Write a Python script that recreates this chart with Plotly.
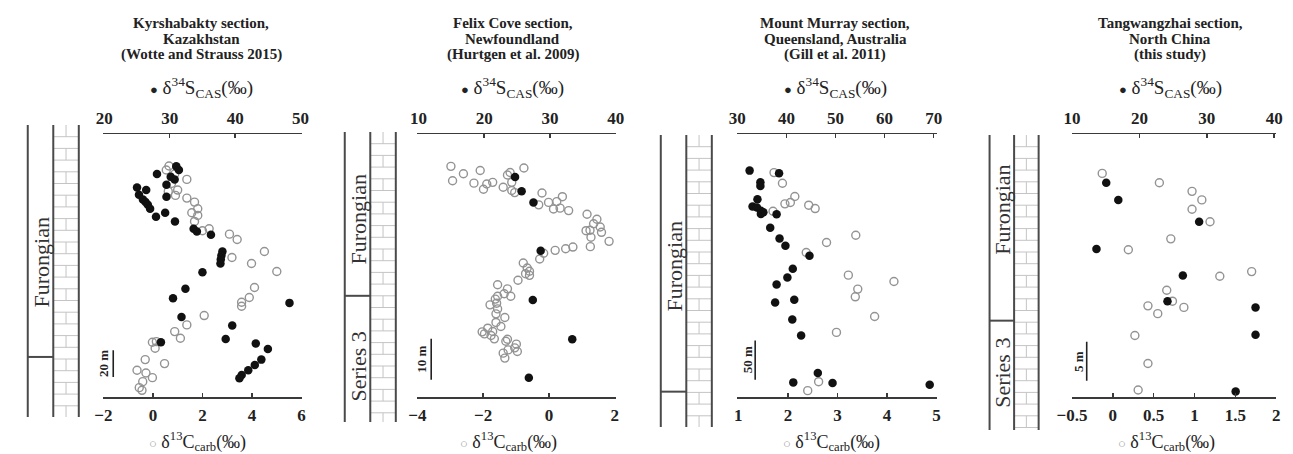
import plotly.graph_objects as go

W, H = 1293, 454
SERIF = "Liberation Serif"

# ---------------- DATA ----------------
# Panel 1: Kyrshabakty section (heights in m)
kyr_c13 = [0.65, 0.54, 0.88, 1.37, 0.75, 1.0, 0.62, 0.91, 1.37, 1.68, 1.81, 1.57, 1.81, 1.68, 2.0, 2.27,
           3.09, 3.4, 4.5, 3.19, 3.98, 5.0, 4.1, 3.89, 3.58, 3.58, 2.07, 1.37, 0.88, 1.11, -0.02, 0.14,
           0.09, 0.47, -0.31, -0.64, -0.28, -0.02, -0.41, -0.55, -0.44]
kyr_c13_h = [173, 170, 167, 163, 160, 155, 154, 151, 149, 146, 141, 138, 136, 131.5, 124.5, 126,
             122, 118, 109, 104.5, 100, 94, 82, 74.5, 71, 68, 61, 54, 49, 44, 41, 41.5,
             36.5, 25, 28, 20, 18, 14.5, 11.5, 7, 5]
kyr_s34 = [31.0, 31.4, 28.05, 30.15, 30.75, 29.5, 25.0, 26.4, 25.3, 29.5, 25.9, 26.3, 26.65, 27.0, 27.9,
           29.3, 30.8, 33.65, 34.15, 36.3, 38.05, 37.9, 37.8, 37.75, 35.0, 32.4, 30.5, 48.3, 31.8, 39.55,
           38.55, 28.65, 43.15, 45.0, 44.0, 43.0, 42.0, 41.0, 40.65]
kyr_s34_h = [172.75, 170, 167, 165, 163, 159, 157, 155, 151.5, 150, 148, 146, 144, 141, 135,
             138, 131.5, 126, 124, 121.5, 109, 106, 103, 100, 93.5, 81, 74, 70.5, 60, 53.5,
             43.5, 41, 40, 36, 28, 24, 20, 16.5, 14]

# Panel 2: Felix Cove section
fel_c13 = [-2.98, -2.93, -2.60, -2.28, -2.09, -1.99, -1.89, -1.71, -1.39, -1.26, -1.18, -1.13, -1.13, -1.04,
           -0.76, -0.21, -0.31, -0.01, 0.14, 0.24, 0.34, 0.41, 0.60, 1.16, 1.36, 1.46, 1.56, 1.25, 1.13,
           1.60, 1.28, 1.26, 1.83, 0.73, 0.51, 0.19, -0.16, -0.28, -0.78, -0.66, -0.59, -0.71, -0.59,
           -0.94, -1.56, -1.26, -1.36, -1.16, -1.56, -1.63, -1.59, -1.79, -1.56, -1.34, -1.61, -1.46,
           -1.61, -1.86, -2.03, -1.96, -1.76, -1.66, -1.71, -1.26, -1.31, -0.99, -1.04, -0.96, -1.39,
           -1.34, -1.24]
fel_c13_h = [56.3, 52.8, 54.5, 52.2, 55.3, 50.7, 52.0, 52.4, 51.2, 54.2, 54.8, 52.4, 50.4, 49.9,
             55.9, 49.8, 46.9, 47.5, 45.9, 47.7, 46.1, 48.9, 45.5, 44.6, 42.3, 43.4, 41.5, 40.7, 40.6,
             40.2, 39.0, 36.7, 38.0, 36.6, 36.2, 35.8, 35.1, 33.7, 32.7, 31.5, 30.7, 30.1, 29.7,
             28.5, 27.4, 26.4, 25.2, 24.6, 24.6, 23.9, 22.9, 22.5, 21.5, 19.4, 20.3, 17.2,
             18.2, 16.8, 15.9, 15.4, 15.0, 14.2, 16.0, 14.1, 13.6, 12.9, 12.0, 11.1, 10.7,
             9.5, 11.5]
fel_s34 = [24.7, 25.7, 27.5, 28.6, 27.4, 33.4, 26.8]
fel_s34_h = [53.7, 50.2, 47.5, 35.7, 23.7, 14.1, 4.7]

# Panel 3: Mount Murray section
mur_c13 = [1.72, 1.89, 2.14, 1.94, 2.05, 2.42, 2.55, 1.70, 3.37, 2.78, 2.37, 3.22, 4.14, 3.41, 3.36,
           3.75, 2.98, 2.62, 2.40]
mur_c13_h = [285.6, 272, 255.1, 245.8, 247.5, 244.1, 239.8, 236.4, 205.9, 196.6, 183.9, 155.1, 147,
             137.3, 127.5, 102.5, 82.2, 19.5, 8.1]
mur_s34 = [32.5, 38.5, 34.7, 34.7, 34.1, 33.1, 34.0, 34.8, 34.8, 35.3, 38.0, 36.7, 38.6, 39.8, 44.7,
           41.3, 40.2, 38.0, 41.6, 37.7, 41.2, 43.0, 46.4, 41.4, 49.4, 69.2]
mur_s34_h = [288.1, 284.7, 273.3, 268.6, 251.7, 242.4, 241.1, 236.9, 233, 235, 232.6, 215.3, 201.7,
             192.4, 179.7, 163.1, 152.1, 143.2, 123.7, 120.3, 98.7, 78.4, 30.5, 18.6, 17.8, 15.7]

# Panel 4: Tangwangzhai section (this study)
tang_c13 = [-0.13, 0.57, 0.97, 1.09, 0.97, 1.19, 0.71, 0.19, 1.31, 1.70, 0.66, 0.73, 0.43, 0.87, 0.55,
            0.27, 0.43, 0.31]
tang_c13_h = [28.7, 27.5, 26.4, 25.3, 24.1, 22.5, 20.3, 18.9, 15.5, 16.1, 13.7, 12.3, 11.7, 11.5, 10.7,
              7.9, 4.3, 0.9]
tang_s34 = [15.08, 16.87, 28.87, 13.63, 26.45, 24.17, 37.24, 37.24, 34.29]
tang_s34_h = [27.5, 25.3, 22.5, 19.0, 15.6, 12.3, 11.5, 8.0, 0.7]

titles = [
    ["Kyrshabakty section,", "Kazakhstan", "(Wotte and Strauss 2015)"],
    ["Felix Cove section,", "Newfoundland", "(Hurtgen et al. 2009)"],
    ["Mount Murray section,", "Queensland, Australia", "(Gill et al. 2011)"],
    ["Tangwangzhai section,", "North China", "(this study)"],
]
c13_ticks = [[-2, 0, 2, 4, 6], [-4, -2, 0, 2], [1, 2, 3, 4, 5], [-0.5, 0, 0.5, 1, 1.5, 2]]
s34_ticks = [[20, 30, 40, 50], [10, 20, 30, 40], [30, 40, 50, 60, 70], [10, 20, 30, 40]]
scale_len = [20, 10, 50, 5]
scale_base = [15, 4.2, 22, 2.1]
boundary_h = [30, 24.7, 6.8, 9.8]
upper_unit = ["Furongian"] * 4
lower_unit = ["", "Series 3", "", "Series 3"]

c13_sets = [(kyr_c13, kyr_c13_h), (fel_c13, fel_c13_h), (mur_c13, mur_c13_h), (tang_c13, tang_c13_h)]
s34_sets = [(kyr_s34, kyr_s34_h), (fel_s34, fel_s34_h), (mur_s34, mur_s34_h), (tang_s34, tang_s34_h)]

# ---------------- LAYOUT CONSTANTS ----------------
panels = [
    dict(dom=(90, 292), c13r=(-2, 6), s34r=(19.85, 50.15), yr=(0, 197), col=(13, 39, 65), ctop=125, cbot=417,
         center=190, lab_up=263, lab_lo=None, scx=-1.6, sclab=90),
    dict(dom=(410, 612), c13r=(-4, 2.03), s34r=(9.85, 40), yr=(0, 64.2), col=(336, 362, 388), ctop=132, cbot=422,
         center=507, lab_up=220, lab_lo=367, scx=-3.58, sclab=414),
    dict(dom=(736, 939), c13r=(0.98, 5.0), s34r=(30, 70.6), yr=(0, 334.7), col=(658, 684, 710), ctop=135, cbot=427,
         center=836, lab_up=267, lab_lo=None, scx=1.34, sclab=746),
    dict(dom=(1077, 1285), c13r=(-0.5, 2.0), s34r=(10, 40.3), yr=(0, 33.76), col=(993, 1018, 1043), ctop=135, cbot=430,
         center=1177, lab_up=210, lab_lo=373, scx=-0.32, sclab=1083),
]
PY_BOT, PY_TOP = 397, 134


def px(x):
    return x / W


def py(y):
    return 1 - y / H


AX_COL = "#3a3a3a"
fig = go.Figure()
shapes, annos = [], []
layout_axes = {}

for i, p in enumerate(panels):
    n = i + 1
    xb = f"x{2 * n - 1}"
    xt = f"x{2 * n}"
    yy = f"y{n}"
    xb_key = "xaxis" if 2 * n - 1 == 1 else f"xaxis{2 * n - 1}"
    xt_key = f"xaxis{2 * n}"
    y_key = "yaxis" if n == 1 else f"yaxis{n}"
    dom = [px(p["dom"][0]), px(p["dom"][1])]
    common = dict(showline=True, linecolor=AX_COL, linewidth=1.5, ticks="inside", ticklen=4, tickwidth=1.5,
                  tickcolor=AX_COL, showgrid=False, zeroline=False, domain=dom, fixedrange=True,
                  tickfont=dict(family=SERIF, size=17, color="#222", weight="bold"))
    layout_axes[xb_key] = dict(common, range=list(p["c13r"]), tickvals=c13_ticks[i], anchor=yy, side="bottom",
                               ticklabelstandoff=2)
    layout_axes[xt_key] = dict(common, range=list(p["s34r"]), tickvals=s34_ticks[i], anchor=yy, side="top",
                               overlaying=xb, ticklabelstandoff=2)
    layout_axes[y_key] = dict(domain=[py(PY_BOT), py(PY_TOP)], range=list(p["yr"]), visible=False,
                              anchor=xb, fixedrange=True)

    cx, ch = c13_sets[i]
    sx, sh = s34_sets[i]
    fig.add_trace(go.Scatter(x=cx, y=ch, xaxis=xb, yaxis=yy, mode="markers", cliponaxis=False,
                             marker=dict(size=8, color="rgba(0,0,0,0)", line=dict(color="#939393", width=1.4)),
                             showlegend=False, hoverinfo="skip"))
    fig.add_trace(go.Scatter(x=sx, y=sh, xaxis=xt, yaxis=yy, mode="markers", cliponaxis=False,
                             marker=dict(size=8.5, color="#111111", line=dict(width=0)),
                             showlegend=False, hoverinfo="skip"))

    # scale bar
    shapes.append(dict(type="line", xref=xb, yref=yy, x0=p["scx"], x1=p["scx"], y0=scale_base[i],
                       y1=scale_base[i] + scale_len[i], line=dict(color="#222", width=1.6)))
    mid_h = scale_base[i] + scale_len[i] / 2
    y_mid_px = PY_BOT - (mid_h - p["yr"][0]) / (p["yr"][1] - p["yr"][0]) * (PY_BOT - PY_TOP)
    annos.append(dict(xref="paper", yref="paper", x=px(p["sclab"]), y=py(y_mid_px), text=f"{scale_len[i]} m",
                      textangle=-90, showarrow=False, xanchor="center", yanchor="middle",
                      font=dict(family=SERIF, size=13, color="#222", weight="bold")))

    # stratigraphic column
    c0, c1, c2 = p["col"]
    top, bot = p["ctop"], p["cbot"]
    b_px = PY_BOT - (boundary_h[i] - p["yr"][0]) / (p["yr"][1] - p["yr"][0]) * (PY_BOT - PY_TOP)
    step = 11.7
    k = 0
    prev = top
    while prev < bot - 0.5:
        ynext = min(prev + step, bot)
        if ynext < bot:
            shapes.append(dict(type="line", xref="paper", yref="paper", x0=px(c1), x1=px(c2), y0=py(ynext),
                               y1=py(ynext), line=dict(color="#c4c4c4", width=1)))
        if k % 2 == 0:
            xm = (c1 + c2) / 2
            shapes.append(dict(type="line", xref="paper", yref="paper", x0=px(xm), x1=px(xm), y0=py(prev),
                               y1=py(ynext), line=dict(color="#c4c4c4", width=1)))
        prev = ynext
        k += 1
    for cxp in (c0, c1, c2):
        shapes.append(dict(type="line", xref="paper", yref="paper", x0=px(cxp), x1=px(cxp), y0=py(top),
                           y1=py(bot), line=dict(color="#4a4a4a", width=2)))
    shapes.append(dict(type="line", xref="paper", yref="paper", x0=px(c0), x1=px(c1), y0=py(b_px),
                       y1=py(b_px), line=dict(color="#4a4a4a", width=2)))
    annos.append(dict(xref="paper", yref="paper", x=px((c0 + c1) / 2), y=py(p["lab_up"]), text=upper_unit[i],
                      textangle=-90, showarrow=False, xanchor="center", yanchor="middle",
                      font=dict(family=SERIF, size=22, color="#333")))
    if lower_unit[i]:
        annos.append(dict(xref="paper", yref="paper", x=px((c0 + c1) / 2), y=py(p["lab_lo"]), text=lower_unit[i],
                          textangle=-90, showarrow=False, xanchor="center", yanchor="middle",
                          font=dict(family=SERIF, size=22, color="#333")))

    # titles
    for t, ty in zip(titles[i], (23, 39, 55)):
        annos.append(dict(xref="paper", yref="paper", x=px(p["center"]), y=py(ty), text=t, showarrow=False,
                          xanchor="center", yanchor="middle",
                          font=dict(family=SERIF, size=15, color="#222", weight="bold")))
    # axis legends
    annos.append(dict(xref="paper", yref="paper", x=px(p["center"]), y=py(88),
                      text="<span style='font-size:13px'>●</span> δ<sup>34</sup>S<sub>CAS</sub>(‰)",
                      showarrow=False, xanchor="center", yanchor="middle",
                      font=dict(family=SERIF, size=19, color="#222")))
    annos.append(dict(xref="paper", yref="paper", x=px(p["center"] - 4), y=py(441),
                      text="<span style='font-size:13px;color:#999'>○</span> δ<sup>13</sup>C<sub>carb</sub>(‰)",
                      showarrow=False, xanchor="center", yanchor="middle",
                      font=dict(family=SERIF, size=18, color="#222")))

fig.update_layout(width=W, height=H, margin=dict(l=0, r=0, t=0, b=0), paper_bgcolor="white",
                  plot_bgcolor="white", showlegend=False, shapes=shapes, annotations=annos, **layout_axes)

fig.write_html("out.html", config={"displayModeBar": False, "staticPlot": True},
               post_script="document.body.style.margin='0';document.body.style.overflow='hidden';")
